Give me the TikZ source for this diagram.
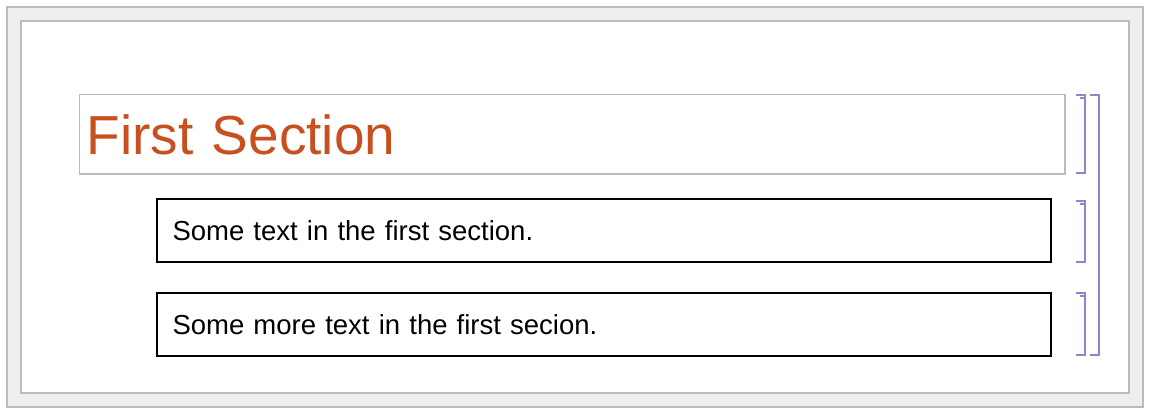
\documentclass[tikz,border=0pt]{standalone}
\usepackage{fontspec}
\setmainfont{Liberation Sans}
\definecolor{framegray}{RGB}{187,187,187}
\definecolor{framefill}{RGB}{238,238,238}
\definecolor{titlecol}{RGB}{200,80,30}
\definecolor{brackcol}{RGB}{136,136,204}
\tikzset{
  titlebox/.style={draw=framegray, line width=1.5pt, anchor=north west, minimum width=985.5pt, minimum height=79.5pt, text width=971pt, inner xsep=7pt, inner ysep=0pt, align=left, font=\fontsize{55}{60}\selectfont, text=titlecol},
  textbox/.style={draw=black, line width=2pt, anchor=north west, minimum width=894pt, minimum height=63pt, text width=863pt, inner xsep=15.5pt, inner ysep=0pt, align=left, font=\fontsize{27.5}{32}\selectfont},
  brack/.style={draw=brackcol, line width=1.5pt}
}
\begin{document}
\begin{tikzpicture}[x=1pt,y=-1pt]
\useasboundingbox (0,0) rectangle (1150,414);
\filldraw[fill=framefill, draw=framegray, line width=2pt] (7,7) rectangle (1143,407);
\filldraw[fill=white, draw=framegray, line width=2pt] (21,21) rectangle (1129,393);
\node[titlebox] (title) at (78.5,94) {First Section};
\node[textbox] (t1) at (156,198) {Some text in the first section.};
\node[textbox] (t2) at (156,292) {Some more text in the first secion.};
% brackets
\draw[brack] (1076,95) -- (1085,95) -- (1085,173) -- (1076,173);
\draw[brack] (1080,98) -- (1085,98);
\draw[brack] (1076,201) -- (1085,201) -- (1085,262) -- (1076,262);
\draw[brack] (1080,204) -- (1085,204);
\draw[brack] (1076,293) -- (1085,293) -- (1085,355) -- (1076,355);
\draw[brack] (1080,296) -- (1085,296);
\draw[brack] (1090,95) -- (1099,95) -- (1099,355) -- (1090,355);
\end{tikzpicture}
\end{document}
